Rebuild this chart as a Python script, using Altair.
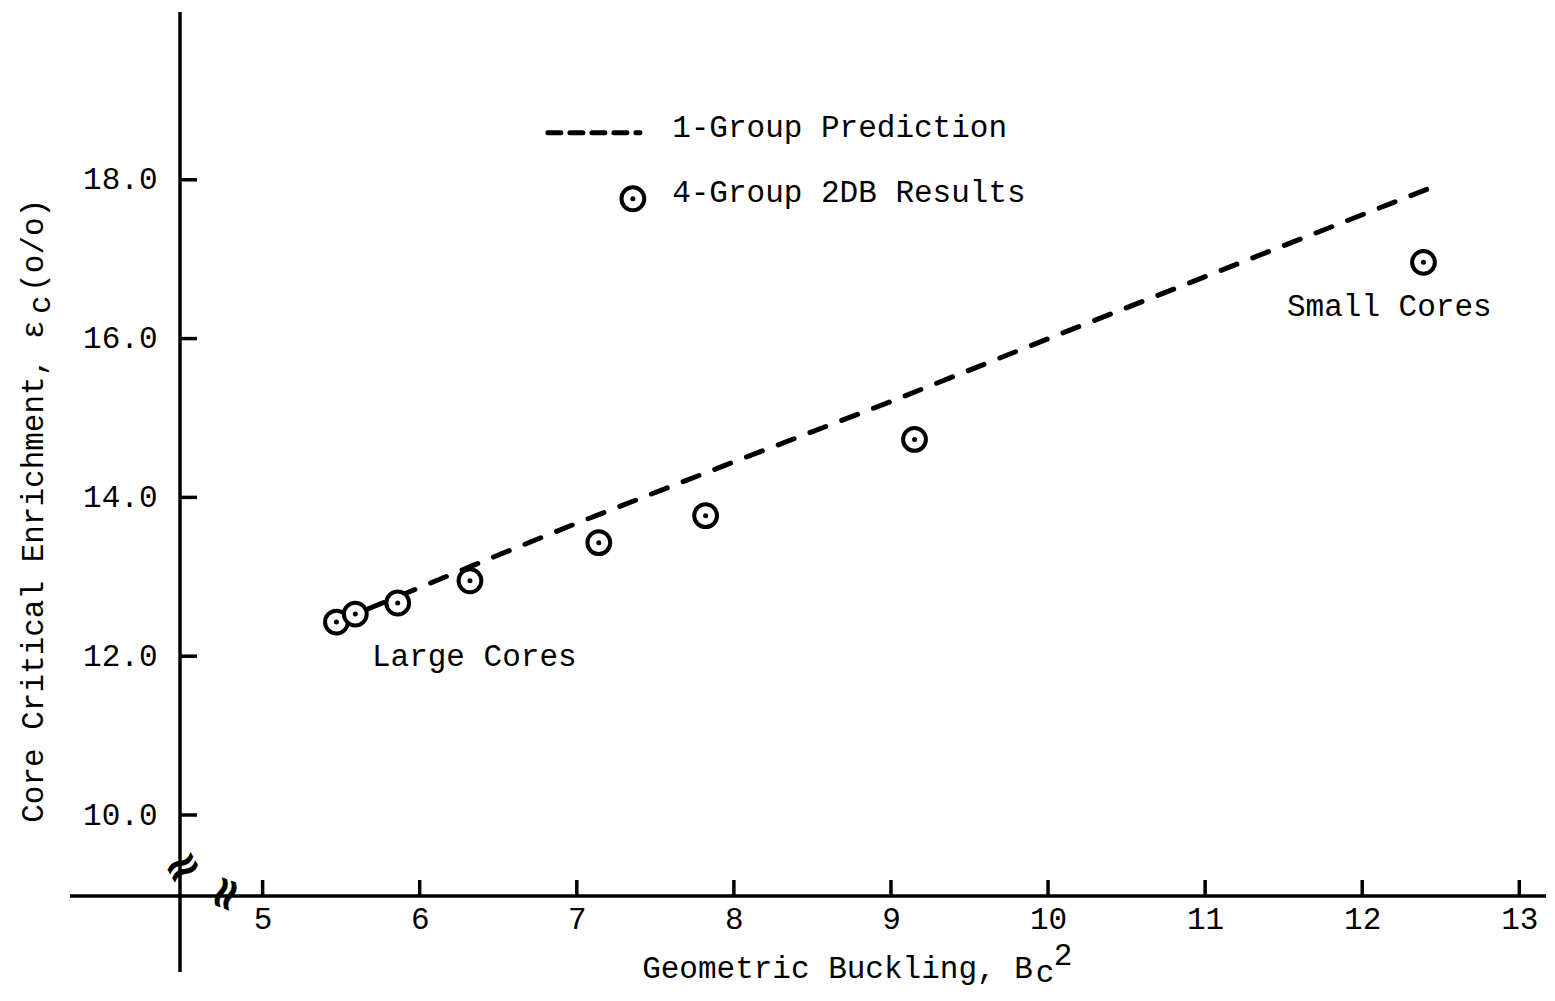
import altair as alt
import pandas as pd

# ---------------- data ----------------
x_tick_values = [5, 6, 7, 8, 9, 10, 11, 12, 13]
y_tick_values = [10.0, 12.0, 14.0, 16.0, 18.0]

# 4-Group 2DB results (geometric buckling, critical enrichment)
buckling_2db = [5.47, 5.59, 5.86, 6.32, 7.14, 7.82, 9.15, 12.39]
enrich_2db = [12.43, 12.53, 12.67, 12.95, 13.43, 13.77, 14.73, 16.96]

# 1-Group prediction (dashed curve)
buckling_pred = [5.47, 6.36, 6.98, 7.99, 8.99, 9.99, 11.0, 12.0, 12.49]
enrich_pred = [12.43, 13.16, 13.66, 14.44, 15.20, 15.99, 16.78, 17.56, 17.94]

legend_labels = ["1-Group Prediction", "4-Group 2DB Results"]
annotations = ["Small Cores", "Large Cores"]

# ---------------- layout constants ----------------
X_MIN, X_MAX = 4.474, 13.17
Y_MIN, Y_MAX = 8.98, 20.113
W, H = 1366, 884
AXIS_X_START = 3.774   # x-axis line drawn left of the y-axis
AXIS_Y_START = 8.023   # y-axis line drawn below the x-axis

FONT = "Liberation Mono"
FS = 31
BLACK = "#000000"

xs = alt.Scale(domain=[X_MIN, X_MAX], nice=False, zero=False)
ys = alt.Scale(domain=[Y_MIN, Y_MAX], nice=False, zero=False)

x_axis = alt.Axis(values=x_tick_values, format="d", domain=False, ticks=False,
                  tickSize=0, grid=False, title=None, labelFont=FONT,
                  labelFontSize=FS, labelColor=BLACK, labelPadding=8,
                  labelFlush=False, labelOverlap=False)
y_axis = alt.Axis(values=y_tick_values, format=".1f", domain=False, ticks=False,
                  tickSize=0, grid=False, title=None, labelFont=FONT,
                  labelFontSize=FS, labelColor=BLACK, labelPadding=23,
                  labelOverlap=False)


def X(field):
    return alt.X(field, type="quantitative", scale=xs, axis=x_axis)


def Y(field):
    return alt.Y(field, type="quantitative", scale=ys, axis=y_axis)


def XD(v):
    return alt.XDatum(v, type="quantitative", scale=xs, axis=x_axis)


def YD(v):
    return alt.YDatum(v, type="quantitative", scale=ys, axis=y_axis)


pts = pd.DataFrame({"x": buckling_2db, "y": enrich_2db})
pred = pd.DataFrame({"x": buckling_pred, "y": enrich_pred})
xt = pd.DataFrame({"x": x_tick_values})
yt = pd.DataFrame({"y": y_tick_values})

# axis lines
x_line = alt.Chart(pd.DataFrame({"x": [AXIS_X_START], "x2": [X_MAX]})).mark_rule(
    color=BLACK, strokeWidth=3.5).encode(x=X("x"), x2="x2", y=YD(Y_MIN))
y_line = alt.Chart(pd.DataFrame({"y": [AXIS_Y_START], "y2": [Y_MAX]})).mark_rule(
    color=BLACK, strokeWidth=3.5).encode(y=Y("y"), y2="y2", x=XD(X_MIN))

# inward ticks
x_ticks = alt.Chart(xt).mark_tick(orient="vertical", size=16, thickness=3.5,
                                  yOffset=-8, color=BLACK, opacity=1).encode(
    x=X("x"), y=YD(Y_MIN))
y_ticks = alt.Chart(yt).mark_tick(orient="horizontal", size=17, thickness=3.5,
                                  xOffset=8.5, color=BLACK, opacity=1).encode(
    y=Y("y"), x=XD(X_MIN))

# axis breaks
brk_y = alt.Chart(pd.DataFrame({"t": ["≈"]})).mark_text(
    font="DejaVu Sans", fontSize=46, fontWeight="bold", angle=330,
    color=BLACK).encode(x=XD(4.493), y=YD(9.335), text="t:N")
brk_x = alt.Chart(pd.DataFrame({"t": ["≈"]})).mark_text(
    font="DejaVu Sans", fontSize=46, fontWeight="bold", angle=290,
    color=BLACK).encode(x=XD(4.767), y=YD(9.005), text="t:N")

# dashed prediction
pred_line = alt.Chart(pred).mark_line(color=BLACK, strokeWidth=5,
                                      strokeDash=[17, 17], strokeCap="round").encode(
    x=X("x"), y=Y("y"), order="x:Q")

# 2DB points: open circle with centre dot
circ = alt.Chart(pts).mark_point(shape="circle", filled=False, fill="white",
                                 fillOpacity=1, stroke=BLACK, strokeWidth=4,
                                 size=520, opacity=1).encode(x=X("x"), y=Y("y"))
dots = alt.Chart(pts).mark_point(shape="circle", filled=True, color=BLACK,
                                 size=25, opacity=1).encode(x=X("x"), y=Y("y"))

# legend
leg_line = alt.Chart(pd.DataFrame({"x": [6.816, 7.402], "y": [18.592, 18.592]})).mark_line(
    color=BLACK, strokeWidth=5, strokeDash=[13, 9], strokeCap="round").encode(
    x=X("x"), y=Y("y"))
leg_pt = pd.DataFrame({"x": [7.357], "y": [17.761]})
leg_circ = alt.Chart(leg_pt).mark_point(shape="circle", filled=False, fill="white",
                                        fillOpacity=1, stroke=BLACK, strokeWidth=4,
                                        size=520, opacity=1).encode(x=X("x"), y=Y("y"))
leg_dot = alt.Chart(leg_pt).mark_point(shape="circle", filled=True, color=BLACK,
                                       size=25, opacity=1).encode(x=X("x"), y=Y("y"))
leg_text = alt.Chart(pd.DataFrame({"x": [7.607, 7.607], "y": [18.655, 17.836],
                                   "t": legend_labels})).mark_text(
    font=FONT, fontSize=FS, align="left", baseline="middle", color=BLACK).encode(
    x=X("x"), y=Y("y"), text="t:N")

# annotations
ann_text = alt.Chart(pd.DataFrame({"x": [11.521, 5.696], "y": [16.40, 11.99],
                                   "t": annotations})).mark_text(
    font=FONT, fontSize=FS, align="left", baseline="middle", color=BLACK).encode(
    x=X("x"), y=Y("y"), text="t:N")

# x title: Geometric Buckling, B_c^2
xt_main = alt.Chart(pd.DataFrame({"t": ["Geometric Buckling, B"]})).mark_text(
    font=FONT, fontSize=FS, align="right", baseline="alphabetic", color=BLACK).encode(
    x=XD(9.903), y=YD(7.950), text="t:N")
xt_sub = alt.Chart(pd.DataFrame({"t": ["c"]})).mark_text(
    font=FONT, fontSize=FS, align="left", baseline="alphabetic", color=BLACK).encode(
    x=XD(9.922), y=YD(7.899), text="t:N")
xt_sup = alt.Chart(pd.DataFrame({"t": ["2"]})).mark_text(
    font=FONT, fontSize=FS, align="left", baseline="alphabetic", color=BLACK).encode(
    x=XD(10.037), y=YD(8.113), text="t:N")

# y title: Core Critical Enrichment, ε_c(o/o)
yt_main = alt.Chart(pd.DataFrame({"t": ["Core Critical Enrichment, ε"]})).mark_text(
    font=FONT, fontSize=FS, align="left", baseline="alphabetic", angle=270,
    color=BLACK).encode(x=XD(3.6015), y=YD(9.902), text="t:N")
yt_sub = alt.Chart(pd.DataFrame({"t": ["c"]})).mark_text(
    font=FONT, fontSize=FS, align="left", baseline="alphabetic", angle=270,
    color=BLACK).encode(x=XD(3.646), y=YD(16.31), text="t:N")
yt_end = alt.Chart(pd.DataFrame({"t": ["(o/o)"]})).mark_text(
    font=FONT, fontSize=FS, align="left", baseline="alphabetic", angle=270,
    color=BLACK).encode(x=XD(3.6015), y=YD(16.589), text="t:N")

chart = alt.layer(
    x_line, y_line, x_ticks, y_ticks, brk_y, brk_x, pred_line, circ, dots,
    leg_line, leg_circ, leg_dot, leg_text, ann_text,
    xt_main, xt_sub, xt_sup, yt_main, yt_sub, yt_end,
).properties(
    width=W, height=H,
    padding={"left": 172, "top": 4, "right": 0, "bottom": 96},
    autosize=alt.AutoSizeParams(type="none"),
    background="white",
).configure_view(stroke=None)

chart.save("out.html", embed_options={"renderer": "svg", "actions": False})
